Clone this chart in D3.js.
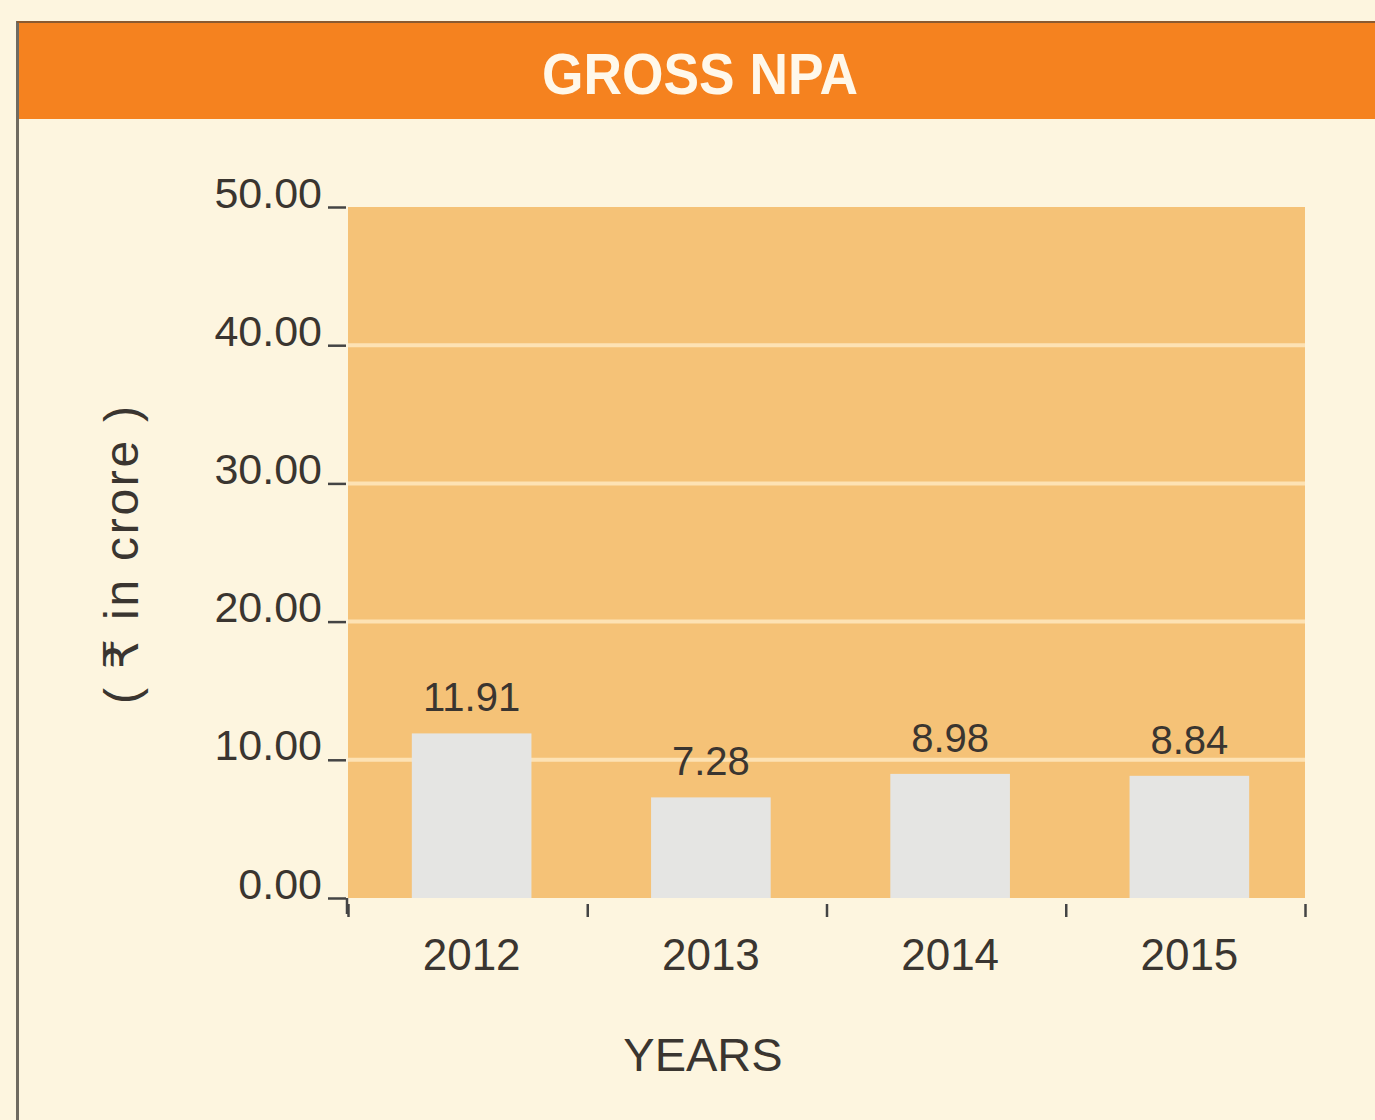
<!DOCTYPE html>
<html>
<head>
<meta charset="utf-8">
<script src="https://cdn.jsdelivr.net/npm/d3@7"></script>
<style>
  body { margin: 0; background: #fdf5df; }
  svg { display: block; }
</style>
</head>
<body>
<svg></svg>
<script>
var years = ["2012", "2013", "2014", "2015"];
var npa = [11.91, 7.28, 8.98, 8.84];
var yTicks = [0, 10, 20, 30, 40, 50];

var width = 1375;
var height = 1120;
var plot = {left: 348, right: 1305, top: 207, bottom: 898};
var font = "'Liberation Sans', Arial, 'DejaVu Sans', sans-serif";

var svg = d3.select("svg")
  .attr("width", width)
  .attr("height", height);

// page background
svg.append("rect")
  .attr("width", width).attr("height", height)
  .attr("fill", "#fdf5df");

// left frame line
svg.append("line")
  .attr("x1", 17.5).attr("x2", 17.5)
  .attr("y1", 21).attr("y2", height)
  .attr("stroke", "#6f6a60").attr("stroke-width", 3);

// header band
svg.append("rect")
  .attr("x", 19).attr("y", 22)
  .attr("width", width - 19).attr("height", 97)
  .attr("fill", "#f5821f");
svg.append("line")
  .attr("x1", 17).attr("x2", width)
  .attr("y1", 22).attr("y2", 22)
  .attr("stroke", "#8a5a30").attr("stroke-width", 2);

svg.append("text")
  .attr("x", 700).attr("y", 94)
  .attr("text-anchor", "middle")
  .attr("font-family", font)
  .attr("font-weight", "bold")
  .attr("font-size", 57)
  .attr("textLength", 316)
  .attr("lengthAdjust", "spacingAndGlyphs")
  .attr("fill", "#fff8ea")
  .text("GROSS NPA");

// scales
var x = d3.scaleBand()
  .domain(years)
  .range([plot.left + 4, plot.right + 4])
  .paddingInner(0.5)
  .paddingOuter(0.25);

var y = d3.scaleLinear()
  .domain([0, 50])
  .range([plot.bottom, plot.top]);

// plot area
svg.append("rect")
  .attr("x", plot.left).attr("y", plot.top)
  .attr("width", plot.right - plot.left)
  .attr("height", plot.bottom - plot.top)
  .attr("fill", "#f5c277");

// gridlines
svg.append("g")
  .selectAll("line")
  .data(yTicks.filter(d => d > 0 && d < 50))
  .join("line")
  .attr("x1", plot.left).attr("x2", plot.right)
  .attr("y1", d => y(d)).attr("y2", d => y(d))
  .attr("stroke", "#fde2b4").attr("stroke-width", 4);

// bars
svg.append("g")
  .selectAll("rect")
  .data(npa)
  .join("rect")
  .attr("x", (d, i) => x(years[i]))
  .attr("width", x.bandwidth())
  .attr("y", d => y(d))
  .attr("height", d => y(0) - y(d))
  .attr("fill", "#e5e5e3");

// value labels
svg.append("g")
  .selectAll("text")
  .data(npa)
  .join("text")
  .attr("x", (d, i) => x(years[i]) + x.bandwidth() / 2)
  .attr("y", d => y(d) - 22)
  .attr("text-anchor", "middle")
  .attr("font-family", font)
  .attr("font-size", 40)
  .attr("fill", "#3a3530")
  .text(d => d.toFixed(2));

// y axis
var yAxis = d3.axisLeft(y)
  .tickValues(yTicks)
  .tickSize(18)
  .tickPadding(6)
  .tickFormat(d3.format(".2f"));

var gy = svg.append("g")
  .attr("transform", "translate(" + [plot.left - 2, 0] + ")")
  .call(yAxis);
gy.select(".domain").remove();
gy.selectAll(".tick line").attr("stroke", "#444").attr("stroke-width", 2.5);
// labels sit a little above their tick marks
gy.selectAll(".tick text")
  .attr("font-family", font)
  .attr("font-size", 43)
  .attr("fill", "#3a3530")
  .attr("dy", "0em");

// little hook under the 0.00 tick
svg.append("line")
  .attr("x1", plot.left - 1).attr("x2", plot.left - 1)
  .attr("y1", y(0)).attr("y2", y(0) + 16)
  .attr("stroke", "#444").attr("stroke-width", 2.5);

// x axis: ticks on band edges
var edges = d3.scaleLinear().domain([0, years.length]).range([plot.left, plot.right]);
var gxt = svg.append("g")
  .attr("transform", "translate(" + [0, y(0) + 6] + ")")
  .call(d3.axisBottom(edges).ticks(years.length).tickSize(13).tickFormat(""));
gxt.select(".domain").remove();
gxt.selectAll(".tick line").attr("stroke", "#444").attr("stroke-width", 2.5);

// x axis labels
var gx = svg.append("g")
  .attr("transform", "translate(" + [0, y(0) + 12] + ")")
  .call(d3.axisBottom(x).tickSize(0).tickPadding(29));
gx.select(".domain").remove();
gx.selectAll(".tick text")
  .attr("font-family", font)
  .attr("font-size", 44)
  .attr("fill", "#3a3530");

// axis titles
svg.append("text")
  .attr("x", 703).attr("y", 1071)
  .attr("text-anchor", "middle")
  .attr("font-family", font)
  .attr("font-size", 47)
  .attr("fill", "#3a3530")
  .text("YEARS");

svg.append("text")
  .attr("transform", "translate(138,555) rotate(-90)")
  .attr("text-anchor", "middle")
  .attr("font-family", font)
  .attr("font-size", 48)
  .attr("textLength", 298)
  .attr("fill", "#3a3530")
  .text("( \u20b9 in crore )");
</script>
</body>
</html>
